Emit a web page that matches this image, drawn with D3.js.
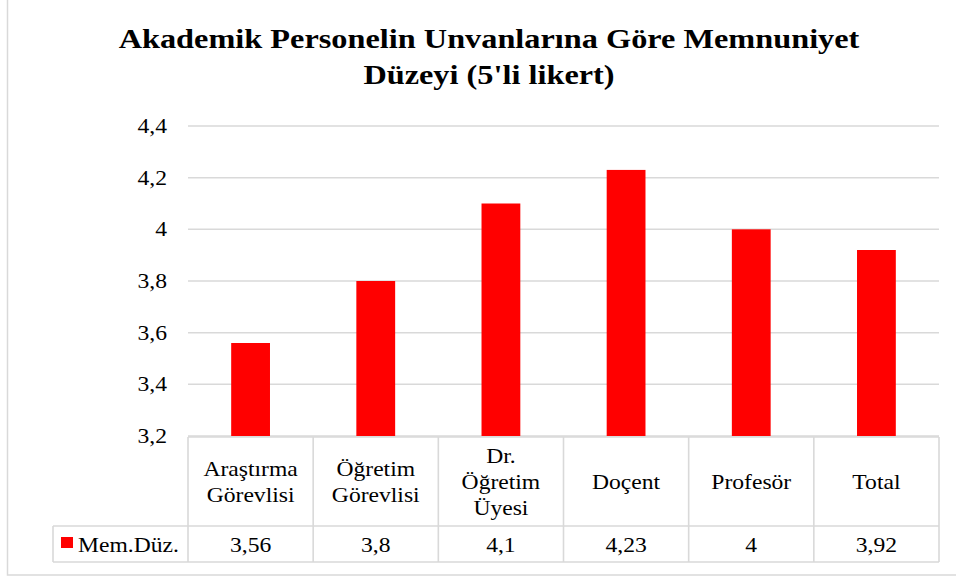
<!DOCTYPE html>
<html>
<head>
<meta charset="utf-8">
<script src="https://cdn.jsdelivr.net/npm/d3@7"></script>
<style>
  body { margin: 0; background: #fff; }
</style>
</head>
<body>
<div id="chart"></div>
<script>
// chart data
const categories = ["Araştırma Görevlisi", "Öğretim Görevlisi", "Dr. Öğretim Üyesi", "Doçent", "Profesör", "Total"];
const values = [3.56, 3.8, 4.1, 4.23, 4, 3.92];
const valueLabels = ["3,56", "3,8", "4,1", "4,23", "4", "3,92"];
const yTicks = [3.2, 3.4, 3.6, 3.8, 4.0, 4.2, 4.4];
const seriesName = "Mem.Düz.";
const titleLines = ["Akademik Personelin Unvanlarına Göre Memnuniyet", "Düzeyi (5'li likert)"];

(function () {
    let width = 956,
        height = 579;

    let margin = {left: 188, right: 17, top: 126, bottom: 143};
    let gridCol = "#d9d9d9";
    let barCol = "#ff0000";
    let font = '"Liberation Serif"';
    // the source picture is a little stretched sideways
    let sx = 1.18;

    let svg = d3.select("#chart")
        .append("svg")
        .attr("width", width)
        .attr("height", height);

    // helper: text stretched horizontally around its anchor point
    function label(parent, x, y, str, opts) {
        opts = opts || {};
        return parent.append("text")
            .attr("transform", `translate(${x}, ${y}) scale(${opts.sx || sx}, 1)`)
            .attr("text-anchor", opts.anchor || "middle")
            .style("font-family", font)
            .style("font-size", (opts.size || 20) + "px")
            .style("font-weight", opts.weight || "normal")
            .attr("fill", "#000")
            .text(str);
    }

    // outer frame (runs off the top and right of the picture)
    svg.append("rect")
        .attr("x", 7.5)
        .attr("y", -5)
        .attr("width", 1000)
        .attr("height", 580)
        .attr("fill", "none")
        .attr("stroke", gridCol)
        .attr("stroke-width", 1.5);

    // title
    titleLines.forEach((t, i) => {
        label(svg, 489, 48 + i * 36, t, {size: 27.5, weight: "bold", sx: 1.175});
    });

    // scales
    let x = d3.scaleBand()
        .domain(categories)
        .range([margin.left, width - margin.right])
        .paddingInner(0.69)
        .paddingOuter(0.345);

    let cell = d3.scaleBand()
        .domain(categories)
        .range([margin.left, width - margin.right])
        .padding(0);

    let y = d3.scaleLinear()
        .domain([3.2, 4.4])
        .range([height - margin.bottom, margin.top]);

    // gridlines
    svg.append("g").selectAll("line")
        .data(yTicks)
        .join("line")
        .attr("x1", margin.left)
        .attr("x2", width - margin.right)
        .attr("y1", d => y(d))
        .attr("y2", d => y(d))
        .attr("stroke", gridCol)
        .attr("stroke-width", 1.5);

    // y axis labels
    let fmt = d => d3.format(".1~f")(d).replace(".", ",");
    let yAxis = svg.append("g");
    yTicks.forEach(t => {
        label(yAxis, 167, y(t) + 7, fmt(t), {anchor: "end"});
    });

    // bars
    svg.append("g").selectAll("rect")
        .data(values)
        .join("rect")
        .attr("x", (d, i) => x(categories[i]))
        .attr("y", d => y(d))
        .attr("width", x.bandwidth())
        .attr("height", d => y(3.2) - y(d))
        .attr("fill", barCol);

    // data table
    let top = y(3.2) + 1,
        rowMid = 526,
        bottom = 562,
        tableLeft = 53,
        right = width - margin.right;

    let table = svg.append("g")
        .attr("stroke", gridCol)
        .attr("stroke-width", 1.6)
        .attr("fill", "none");

    [[margin.left, top], [tableLeft, rowMid], [tableLeft, bottom]].forEach(p => {
        table.append("line")
            .attr("x1", p[0]).attr("x2", right)
            .attr("y1", p[1]).attr("y2", p[1]);
    });
    table.append("line")
        .attr("x1", tableLeft).attr("x2", tableLeft)
        .attr("y1", rowMid).attr("y2", bottom);
    table.selectAll(".vline")
        .data(categories.map(c => cell(c)).concat([right]))
        .join("line")
        .attr("class", "vline")
        .attr("x1", d => d)
        .attr("x2", d => d)
        .attr("y1", top)
        .attr("y2", bottom);

    // category labels, wrapped like the spreadsheet
    let lineH = 26;
    function wrap(str, maxW) {
        let probe = svg.append("text")
            .style("font-family", font)
            .style("font-size", "20px");
        let words = str.split(" "), lines = [], cur = "";
        words.forEach(w => {
            let t = cur ? cur + " " + w : w;
            probe.text(t);
            if (probe.node().getComputedTextLength() * sx > maxW && cur) {
                lines.push(cur);
                cur = w;
            } else {
                cur = t;
            }
        });
        lines.push(cur);
        probe.remove();
        return lines;
    }

    let catG = svg.append("g");
    categories.forEach(c => {
        let lines = wrap(c, 105);
        let cx = cell(c) + cell.bandwidth() / 2;
        let mid = (top + rowMid) / 2;
        let first = mid + 7 - (lines.length - 1) * lineH / 2;
        lines.forEach((l, i) => label(catG, cx, first + i * lineH, l));
    });

    // value row
    let valG = svg.append("g");
    valueLabels.forEach((v, i) => {
        label(valG, cell(categories[i]) + cell.bandwidth() / 2, (rowMid + bottom) / 2 + 8, v);
    });

    // legend key in table
    svg.append("rect")
        .attr("x", 61)
        .attr("y", 537)
        .attr("width", 12)
        .attr("height", 11)
        .attr("fill", barCol);
    label(svg, 78, (rowMid + bottom) / 2 + 8, seriesName, {anchor: "start"});
})();
</script>
</body>
</html>
